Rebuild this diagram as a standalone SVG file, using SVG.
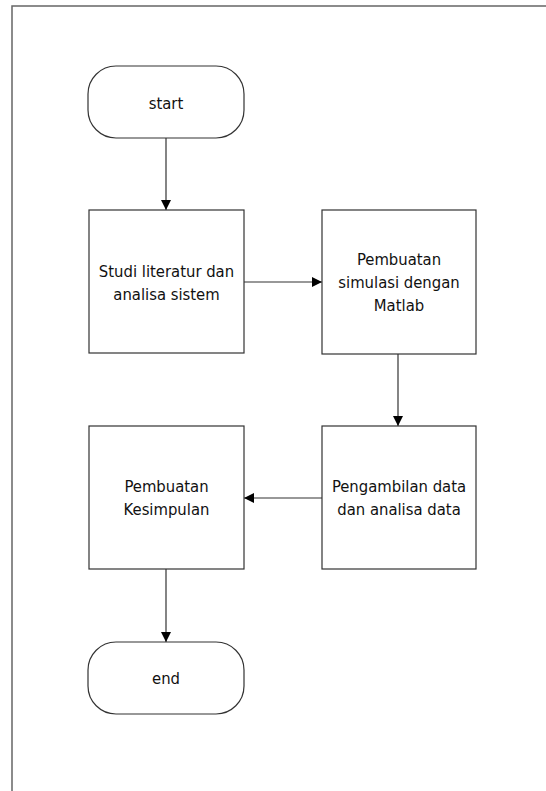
<svg xmlns="http://www.w3.org/2000/svg" width="546" height="791" viewBox="0 0 546 791">
<defs>
<style>
.shape{fill:#fff;stroke:#333;stroke-width:1.2}
.frame{fill:none;stroke:#666;stroke-width:1.5}
.lbl{font-family:"DejaVu Sans Condensed","DejaVu Sans",sans-serif;font-size:16.5px;fill:#111;text-anchor:middle}
.conn{stroke:#333;stroke-width:1.2;fill:none;marker-end:url(#arr)}
</style>
<marker id="arr" viewBox="0 0 10 10" refX="10" refY="5" markerWidth="11" markerHeight="10" markerUnits="userSpaceOnUse" orient="auto">
<path d="M0,0 L10,5 L0,10 Z" fill="#000"/>
</marker>
</defs>
<rect width="546" height="791" fill="#fff"/>
<path class="frame" d="M12,791 L12,6 L546,6"/>
<g id="connectors">
<line class="conn" x1="166" y1="138" x2="166" y2="210"/>
<line class="conn" x1="244" y1="282" x2="322" y2="282"/>
<line class="conn" x1="398" y1="354" x2="398" y2="426"/>
<line class="conn" x1="322" y1="498" x2="244" y2="498"/>
<line class="conn" x1="166" y1="569" x2="166" y2="642"/>
</g>
<g id="start">
<rect class="shape" x="88" y="66" width="156" height="72" rx="28" ry="28"/>
<text class="lbl" x="166" y="109">start</text>
</g>
<g id="studi">
<rect class="shape" x="89" y="210" width="155" height="143"/>
<text class="lbl" x="166.5" y="277">Studi literatur dan</text>
<text class="lbl" x="166.5" y="300">analisa sistem</text>
</g>
<g id="simulasi">
<rect class="shape" x="322" y="210" width="154" height="144"/>
<text class="lbl" x="399" y="265">Pembuatan</text>
<text class="lbl" x="399" y="288">simulasi dengan</text>
<text class="lbl" x="399" y="311">Matlab</text>
</g>
<g id="pengambilan">
<rect class="shape" x="322" y="426" width="154" height="143"/>
<text class="lbl" x="399" y="492">Pengambilan data</text>
<text class="lbl" x="399" y="515">dan analisa data</text>
</g>
<g id="kesimpulan">
<rect class="shape" x="89" y="426" width="155" height="143"/>
<text class="lbl" x="166.5" y="492">Pembuatan</text>
<text class="lbl" x="166.5" y="515">Kesimpulan</text>
</g>
<g id="end">
<rect class="shape" x="88" y="642" width="156" height="72" rx="28" ry="28"/>
<text class="lbl" x="166" y="684">end</text>
</g>
</svg>
